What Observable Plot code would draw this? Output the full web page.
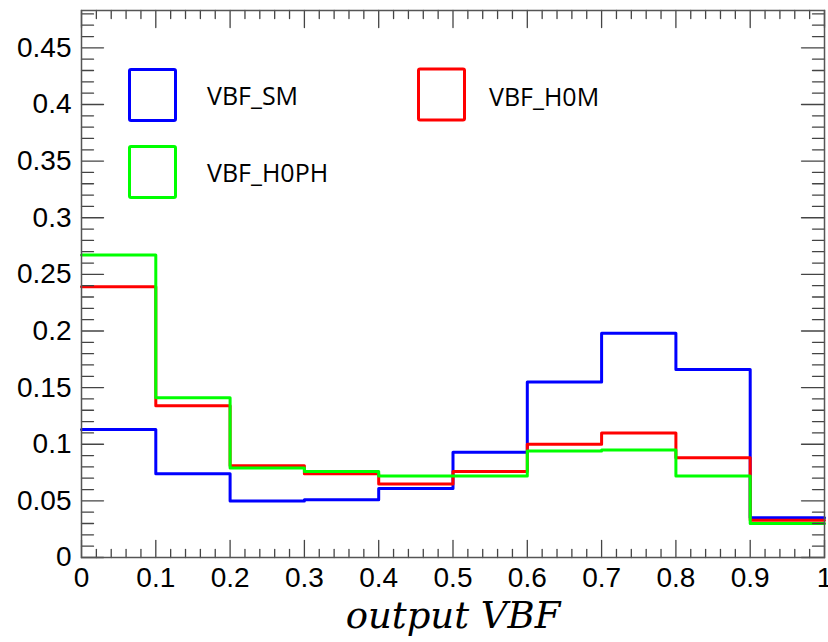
<!DOCTYPE html>
<html><head><meta charset="utf-8">
<script src="https://cdn.jsdelivr.net/npm/d3@7"></script>
<script src="https://cdn.jsdelivr.net/npm/@observablehq/plot@0.6"></script>
<style>body{margin:0;background:#fff;} #chart{position:relative;width:828px;height:642px;}</style>
</head><body><div id="chart"></div>
<script>
// ---- data ----
const binEdges = [0, 0.1, 0.2, 0.3, 0.4, 0.5, 0.6, 0.7, 0.8, 0.9, 1.0];
const vbfSM   = [0.113, 0.074, 0.050, 0.051, 0.061, 0.093, 0.155, 0.198, 0.166, 0.035];
const vbfH0M  = [0.239, 0.134, 0.081, 0.074, 0.065, 0.076, 0.100, 0.110, 0.088, 0.033];
const vbfH0PH = [0.267, 0.141, 0.079, 0.076, 0.072, 0.072, 0.094, 0.095, 0.072, 0.030];
const seriesNames  = ["VBF_SM", "VBF_H0M", "VBF_H0PH"];
const seriesColors = ["#0000ff", "#ff0000", "#00ff00"];
const xMajorTicks = [0, 0.1, 0.2, 0.3, 0.4, 0.5, 0.6, 0.7, 0.8, 0.9, 1];
const xTickLabels = ["0", "0.1", "0.2", "0.3", "0.4", "0.5", "0.6", "0.7", "0.8", "0.9", "1"];
const xMinorTicks = [0.02,0.04,0.06,0.08,0.12,0.14,0.16,0.18,0.22,0.24,0.26,0.28,0.32,0.34,0.36,0.38,0.42,0.44,0.46,0.48,0.52,0.54,0.56,0.58,0.62,0.64,0.66,0.68,0.72,0.74,0.76,0.78,0.82,0.84,0.86,0.88,0.92,0.94,0.96,0.98];
const yMajorTicks = [0, 0.05, 0.1, 0.15, 0.2, 0.25, 0.3, 0.35, 0.4, 0.45];
const yTickLabels = ["0", "0.05", "0.1", "0.15", "0.2", "0.25", "0.3", "0.35", "0.4", "0.45"];
const yMinorTicks = [0.01,0.02,0.03,0.04,0.06,0.07,0.08,0.09,0.11,0.12,0.13,0.14,0.16,0.17,0.18,0.19,0.21,0.22,0.23,0.24,0.26,0.27,0.28,0.29,0.31,0.32,0.33,0.34,0.36,0.37,0.38,0.39,0.41,0.42,0.43,0.44,0.46,0.47,0.48];
const xDomain = [0, 1];
const yDomain = [0, 0.483];
const xTitle = "output VBF";

// ---- build step rows ----
const seriesValues = [vbfSM, vbfH0M, vbfH0PH];
const rows = [];
seriesNames.forEach((name, k) => {
  const vals = seriesValues[k];
  binEdges.forEach((x, i) => rows.push({x, y: vals[Math.min(i, vals.length - 1)], s: name}));
});

const axisColor = "#444";
const tickShape = {draw(context, l) { context.moveTo(0, 0); context.lineTo(0, -l); }};
const tickMarks = (data, opts) => Plot.vector(data, {anchor: "start", shape: tickShape, stroke: axisColor, strokeWidth: 1.3, ...opts});

const svg = Plot.plot({
  width: 828,
  height: 642,
  marginLeft: 81,
  marginRight: 4,
  marginTop: 10,
  marginBottom: 85,
  style: {fontFamily: "Liberation Sans", background: "#fff", color: "#000"},
  x: {domain: xDomain},
  y: {domain: yDomain},
  color: {domain: seriesNames, range: seriesColors},
  marks: [
    Plot.line(rows, {x: "x", y: "y", z: "s", stroke: "s", curve: "step-after", strokeWidth: 3}),
    // inward ticks, ROOT style
    tickMarks(yMinorTicks, {x: xDomain[0], y: d => d, rotate: 90, length: 12}),
    tickMarks(yMajorTicks, {x: xDomain[0], y: d => d, rotate: 90, length: 22}),
    tickMarks(yMinorTicks, {x: xDomain[1], y: d => d, rotate: -90, length: 12}),
    tickMarks(yMajorTicks, {x: xDomain[1], y: d => d, rotate: -90, length: 23}),
    tickMarks(xMinorTicks, {x: d => d, y: yDomain[0], rotate: 0, length: 8}),
    tickMarks(xMajorTicks, {x: d => d, y: yDomain[0], rotate: 0, length: 17}),
    tickMarks(xMinorTicks, {x: d => d, y: yDomain[1], rotate: 180, length: 8}),
    tickMarks(xMajorTicks, {x: d => d, y: yDomain[1], rotate: 180, length: 17}),
    Plot.frame({stroke: "#555", strokeWidth: 1.5}),
    Plot.axisY({ticks: yMajorTicks, tickFormat: d => yTickLabels[yMajorTicks.indexOf(d)], tickSize: 0, tickPadding: 10, fontSize: 28, fill: "#000", label: null}),
    Plot.axisX({ticks: xMajorTicks, tickFormat: d => xTickLabels[xMajorTicks.indexOf(d)], tickSize: 0, tickPadding: 10, fontSize: 28, fill: "#000", label: null}),
    Plot.text([xTitle], {text: d => d, frameAnchor: "bottom", dy: 70, fontFamily: "DejaVu Serif", fontStyle: "italic", fontSize: 37, fill: "#000"})
  ]
});

// ---- legend (ROOT TLegend style, inside the frame) ----
const legendItems = [
  {name: seriesNames[0], color: seriesColors[0], bx: 129.5, by: 69.5, tx: 207, ty: 105},
  {name: seriesNames[1], color: seriesColors[1], bx: 418.5, by: 69, tx: 489, ty: 106},
  {name: seriesNames[2], color: seriesColors[2], bx: 129.5, by: 146.5, tx: 207, ty: 181.5}
];
const g = d3.select(svg).append("g").attr("text-anchor", "start");
legendItems.forEach(it => {
  g.append("rect").attr("x", it.bx).attr("y", it.by).attr("width", 46).attr("height", 51)
    .attr("rx", 1.5).attr("fill", "none").attr("stroke", it.color).attr("stroke-width", 3);
  g.append("text").attr("x", it.tx).attr("y", it.ty).text(it.name)
    .attr("text-anchor", "start")
    .attr("font-family", "Open Sans").attr("font-size", 25).attr("fill", "#000");
});

document.getElementById("chart").appendChild(svg);
</script>
</body></html>
